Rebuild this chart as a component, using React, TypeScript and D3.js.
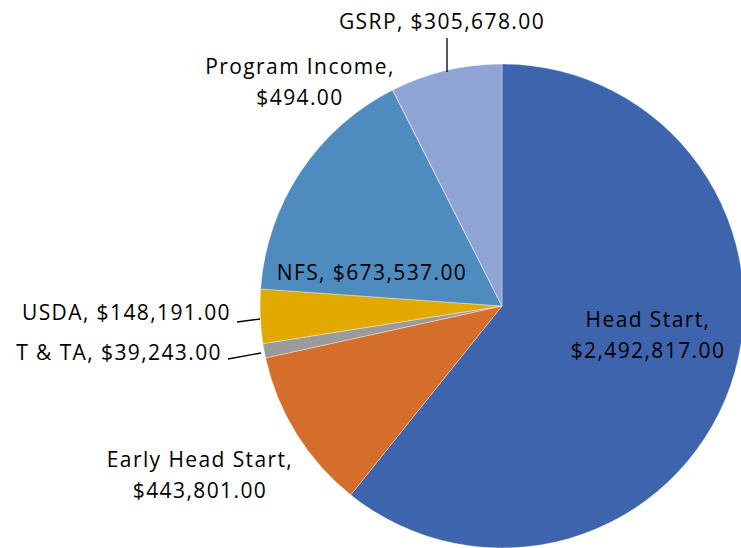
import React from "react";
import * as d3 from "d3";

const categories = ["Head Start", "Early Head Start", "T & TA", "USDA", "NFS", "Program Income", "GSRP"];
const values = [2492817, 443801, 39243, 148191, 673537, 494, 305678];
const colors = ["#3E64AD", "#D46E2A", "#9B9B9B", "#E2AA00", "#4E8BBF", "#6EA33F", "#8FA4D5"];

const W = 741, H = 548;
const cx = 502, cy = 306, R = 242;

const fmt = (v: number) => "$" + d3.format(",.2f")(v);

const labelPos: Record<string, { x: number; y: number; anchor: string; split: boolean }> = {
  "Head Start": { x: 648, y: 327, anchor: "middle", split: true },
  "Early Head Start": { x: 200, y: 467, anchor: "middle", split: true },
  "T & TA": { x: 222, y: 360, anchor: "end", split: false },
  "USDA": { x: 231, y: 320, anchor: "end", split: false },
  "NFS": { x: 372, y: 280, anchor: "middle", split: false },
  "Program Income": { x: 300, y: 74, anchor: "middle", split: true },
  "GSRP": { x: 442, y: 29, anchor: "middle", split: false },
};

export default function App() {
  const pie = d3.pie<number>().sort(null).value((d) => d);
  const arcs = pie(values);
  const arcGen = d3.arc<d3.PieArcDatum<number>>().innerRadius(0).outerRadius(R);
  const font = "'Open Sans', sans-serif";
  return (
    <svg width={W} height={H} style={{ position: "absolute", left: 0, top: 0 }}>
      <rect width={W} height={H} fill="#fff" />
      <g transform={`translate(${cx},${cy})`}>
        {arcs.map((a, i) => (
          <path key={i} d={arcGen(a) || ""} fill={colors[i]} stroke="#ffffff" strokeWidth={0.6} strokeOpacity={0.6} />
        ))}
      </g>
      <g stroke="#000" strokeWidth={1.3} fill="none">
        <path d="M447,38 L447,72" />
        <path d="M237,322 L260,319" />
        <path d="M228,359 L261,353" />
      </g>
      <g fontFamily={font} fontSize={21} fill="#000" letterSpacing={1.4}>
        {categories.map((c, i) => {
          const p = labelPos[c];
          if (p.split) {
            return (
              <text key={c} x={p.x} y={p.y} textAnchor={p.anchor}>
                <tspan x={p.x} y={p.y}>{c + ","}</tspan>
                <tspan x={p.x} y={p.y + 31}>{fmt(values[i])}</tspan>
              </text>
            );
          }
          return (
            <text key={c} x={p.x} y={p.y} textAnchor={p.anchor}>{c + ", " + fmt(values[i])}</text>
          );
        })}
      </g>
    </svg>
  );
}
